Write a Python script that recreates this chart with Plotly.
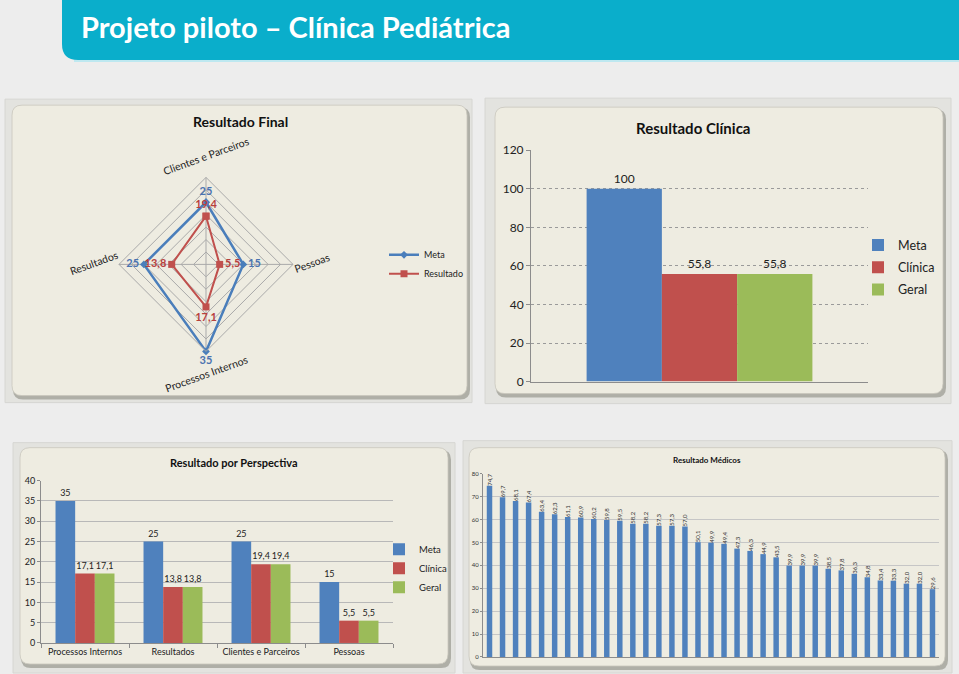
import plotly.graph_objects as go

W, H = 959, 674
# the photographed area maps the page's 674 px onto rows 8..666
Y0, YSPAN = 8.0, 658.0


def px(x):
    return x / W


def py(y):
    return 1 - (y - Y0) / YSPAN


# ---------------- data ----------------
radar_cats = ["Clientes e Parceiros", "Pessoas", "Processos Internos", "Resultados"]
radar_meta = [25, 15, 35, 25]
radar_res = [19.4, 5.5, 17.1, 13.8]

clinica_series = ["Meta", "Clínica", "Geral"]
clinica_vals = [100, 55.8, 55.8]

persp_cats = ["Processos Internos", "Resultados", "Clientes e Parceiros", "Pessoas"]
persp_meta = [35, 25, 25, 15]
persp_clinica = [17.1, 13.8, 19.4, 5.5]
persp_geral = [17.1, 13.8, 19.4, 5.5]

medicos_vals = [74.7, 69.7, 68.1, 67.4, 63.4, 62.3, 61.1, 60.9, 60.2, 59.8,
                59.5, 58.2, 58.2, 57.3, 57.3, 57.0, 50.1, 49.9, 49.4, 47.3,
                46.3, 44.9, 43.5, 39.9, 39.9, 39.9, 38.5, 37.8, 36.3, 34.8,
                33.4, 33.3, 32.0, 32.0, 29.6]
medicos_ids = ["Médico %d" % (i + 1) for i in range(len(medicos_vals))]

BLUE = "#4f81bd"
RED = "#c0504d"
GREEN = "#9bbb59"
FONT = "Lato, 'Noto Sans', sans-serif"
TITLE_FONT = "Lato, sans-serif"


def fmt(v):
    return ("%g" % v).replace(".", ",")


def fmt1(v):
    return ("%.1f" % v).replace(".", ",")


def rrect(x0, y0, x1, y1, r):
    X, Y = px, py
    return (f"M {X(x0 + r)},{Y(y0)} L {X(x1 - r)},{Y(y0)} Q {X(x1)},{Y(y0)} {X(x1)},{Y(y0 + r)} "
            f"L {X(x1)},{Y(y1 - r)} Q {X(x1)},{Y(y1)} {X(x1 - r)},{Y(y1)} "
            f"L {X(x0 + r)},{Y(y1)} Q {X(x0)},{Y(y1)} {X(x0)},{Y(y1 - r)} "
            f"L {X(x0)},{Y(y0 + r)} Q {X(x0)},{Y(y0)} {X(x0 + r)},{Y(y0)} Z")


fig = go.Figure()

# ---------------- radar ----------------
theta = radar_cats + [radar_cats[0]]
pos = ["top center", "middle right", "bottom center", "middle left", "top center"]
fig.add_trace(go.Scatterpolar(
    r=radar_meta + [radar_meta[0]], theta=theta, mode="lines+markers+text",
    text=["<b>%s</b>" % fmt(v) for v in radar_meta] + [""], textposition=pos,
    textfont=dict(color="#4a73b0", size=11, family=FONT),
    line=dict(color="#4a7ebb", width=2.5),
    marker=dict(symbol="diamond", size=6, color="#4a7ebb"),
    name="Meta", legend="legend", legendgroup="a"))
fig.add_trace(go.Scatterpolar(
    r=radar_res + [radar_res[0]], theta=theta, mode="lines+markers+text",
    text=["<b>%s</b>" % fmt(v) for v in radar_res] + [""], textposition=pos,
    textfont=dict(color="#b8403d", size=11, family=FONT),
    line=dict(color="#c0504d", width=2),
    marker=dict(symbol="square", size=7, color="#c0504d"),
    name="Resultado", legend="legend", legendgroup="b"))

# ---------------- Resultado Clínica ----------------
for name, val, col in zip(clinica_series, clinica_vals, [BLUE, RED, GREEN]):
    fig.add_trace(go.Bar(
        x=["Resultado"], y=[val], name=name, marker=dict(color=col, line=dict(width=0)),
        text=[fmt(val)], textposition="outside", cliponaxis=False,
        textfont=dict(size=12, color="#222", family=FONT),
        xaxis="x", yaxis="y", legend="legend2", legendgroup="c" + name))

# ---------------- Resultado por Perspectiva ----------------
for name, vals, col in zip(clinica_series, [persp_meta, persp_clinica, persp_geral], [BLUE, RED, GREEN]):
    fig.add_trace(go.Bar(
        x=persp_cats, y=vals, name=name, marker=dict(color=col, line=dict(width=0)),
        text=[fmt(v) for v in vals], textposition="outside", cliponaxis=False,
        textfont=dict(size=9, color="#222", family=FONT),
        xaxis="x2", yaxis="y2", legend="legend3", legendgroup="p" + name))

# ---------------- Resultado Médicos ----------------
fig.add_trace(go.Bar(
    x=medicos_ids, y=medicos_vals, width=0.42, marker=dict(color=BLUE, line=dict(width=0)),
    text=[fmt1(v) for v in medicos_vals], textposition="outside", textangle=-90,
    constraintext="none", cliponaxis=False,
    textfont=dict(size=6, color="#333", family=FONT),
    xaxis="x3", yaxis="y3", showlegend=False))

# ---------------- shapes (panels) ----------------
shapes = []
# header banner
shapes.append(dict(type="path", xref="paper", yref="paper", layer="below",
                   path=f"M {px(62)},{py(0)} L {px(959)},{py(0)} L {px(959)},{py(60)} L {px(78)},{py(60)} "
                        f"Q {px(62)},{py(60)} {px(62)},{py(44)} Z",
                   fillcolor="#0aaecb", line=dict(width=0)))
shapes.append(dict(type="line", xref="paper", yref="paper", layer="below",
                   x0=px(74), x1=px(959), y0=py(61), y1=py(61),
                   line=dict(color="#aee6f0", width=1.5)))

panels = [
    ((5, 99, 472, 402), (12, 105, 467, 395)),
    ((485, 98, 951, 403), (495, 107, 943, 393)),
    ((13, 442, 455, 672), (20, 447, 448, 663)),
    ((463, 440, 952, 672), (469, 447, 945, 665)),
]
for frame, box in panels:
    fx0, fy0, fx1, fy1 = frame
    shapes.append(dict(type="rect", xref="paper", yref="paper", layer="below",
                       x0=px(fx0), x1=px(fx1), y0=py(fy1), y1=py(fy0),
                       fillcolor="#e3e3df", line=dict(color="#d6d6d2", width=1)))
    bx0, by0, bx1, by1 = box
    shapes.append(dict(type="path", xref="paper", yref="paper", layer="below",
                       path=rrect(bx0 + 1, by0 + 2, bx1 + 3, by1 + 4, 10),
                       fillcolor="rgba(110,110,100,0.45)", line=dict(width=0)))
    shapes.append(dict(type="path", xref="paper", yref="paper", layer="below",
                       path=rrect(bx0, by0, bx1, by1, 10),
                       fillcolor="#eeece1", line=dict(color="#c9c7bc", width=0.8)))

# ---------------- annotations ----------------
ann = []
ann.append(dict(text="<b>Projeto piloto – Clínica Pediátrica</b>", x=px(79), y=py(26),
                xref="paper", yref="paper", xanchor="left", yanchor="middle", showarrow=False,
                font=dict(family=TITLE_FONT, size=29, color="white")))

titles = [("Resultado Final", 240, 121, 14), ("Resultado Clínica", 693, 128, 15),
          ("Resultado por Perspectiva", 233, 462, 11), ("Resultado Médicos", 707, 459, 8)]
for t, x, y, s in titles:
    ann.append(dict(text="<b>%s</b>" % t, x=px(x), y=py(y), xref="paper", yref="paper",
                    xanchor="center", yanchor="middle", showarrow=False,
                    font=dict(family=FONT, size=s, color="#111")))

# radar category labels (rotated)
radar_label_pos = [(206, 156), (312, 263), (206, 373), (94, 263)]
for cat, (x, y) in zip(radar_cats, radar_label_pos):
    ann.append(dict(text=cat, x=px(x), y=py(y), xref="paper", yref="paper",
                    xanchor="center", yanchor="middle", showarrow=False, textangle=-20,
                    font=dict(family=FONT, size=10.5, color="#222")))

axis_common = dict(linecolor="#8c8c8c", tickcolor="#8c8c8c", zeroline=False, fixedrange=True)

fig.update_layout(
    width=W, height=H, margin=dict(l=0, r=0, t=0, b=0),
    paper_bgcolor="#ededed", plot_bgcolor="rgba(0,0,0,0)",
    font=dict(family=FONT, color="#222"),
    barmode="group", bargap=0.33, bargroupgap=0,
    shapes=shapes, annotations=ann,
    polar=dict(
        domain=dict(x=[px(119), px(293)], y=[py(351), py(177)]),
        bgcolor="rgba(0,0,0,0)", gridshape="linear",
        radialaxis=dict(range=[0, 35], dtick=5, showticklabels=False, ticks="", showline=False,
                        gridcolor="#a9a9a9", gridwidth=0.7),
        angularaxis=dict(rotation=90, direction="clockwise", showticklabels=False, ticks="",
                         gridcolor="#a9a9a9", linecolor="#a9a9a9", showline=True)),
    xaxis=dict(domain=[px(531), px(868)], anchor="y", showticklabels=False, ticks="",
               showline=True, showgrid=False, **axis_common),
    yaxis=dict(domain=[py(381), py(150)], anchor="x", range=[0, 120], dtick=20,
               showline=True, ticks="outside", ticklen=4, showgrid=True,
               gridcolor="#9a9a9a", griddash="dot", tickfont=dict(size=12, color="#222"),
               **axis_common),
    xaxis2=dict(domain=[px(41), px(393)], anchor="y2", tickson="boundaries", ticks="outside",
                ticklen=4, showline=True, showgrid=False, tickfont=dict(size=9, color="#222"),
                **axis_common),
    yaxis2=dict(domain=[py(642), py(480)], anchor="x2", range=[0, 40], dtick=5,
                showline=True, ticks="outside", ticklen=3, showgrid=True, gridcolor="#b8b8b8",
                tickfont=dict(size=9, color="#222"), **axis_common),
    xaxis3=dict(domain=[px(483), px(939)], anchor="y3", showticklabels=False, ticks="",
                showline=True, showgrid=False, **axis_common),
    yaxis3=dict(domain=[py(656), py(473)], anchor="x3", range=[0, 80], dtick=10,
                showline=True, ticks="outside", ticklen=2, showgrid=True, gridcolor="#c6c6c6",
                tickfont=dict(size=6, color="#333"), **axis_common),
    legend=dict(x=px(384), y=py(240), xanchor="left", yanchor="top", bgcolor="rgba(0,0,0,0)",
                font=dict(size=9), itemwidth=30, tracegroupgap=0),
    legend2=dict(x=px(858), y=py(230), xanchor="left", yanchor="top", bgcolor="rgba(0,0,0,0)",
                 font=dict(size=12.5), itemwidth=30, tracegroupgap=3),
    legend3=dict(x=px(379), y=py(534), xanchor="left", yanchor="top", bgcolor="rgba(0,0,0,0)",
                 font=dict(size=9.5), itemwidth=30, tracegroupgap=0),
)

fig.write_html(
    "out.html",
    config=dict(displayModeBar=False),
    post_script=("document.documentElement.style.margin='0';"
                 "document.body.style.margin='0';"
                 "document.body.style.background='#ededed';"
                 "var g=document.getElementById('{plot_id}');"
                 "g.style.position='fixed';g.style.top='0px';g.style.left='0px';"),
)
